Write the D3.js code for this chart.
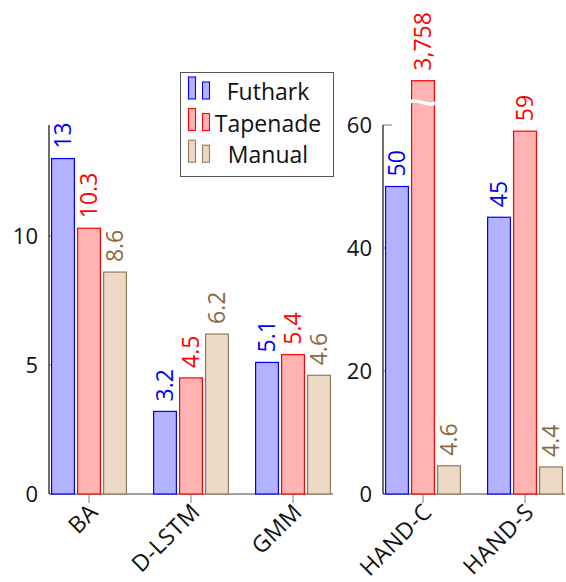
<!DOCTYPE html>
<html>
<head>
<meta charset="utf-8">
<script src="https://cdn.jsdelivr.net/npm/d3@7/dist/d3.min.js"></script>
<style>
  html, body { margin: 0; padding: 0; background: #fff; }
  svg { display: block; font-family: "Open Sans", "DejaVu Sans", sans-serif; }
</style>
</head>
<body>
<svg id="chart" width="566" height="582"></svg>
<script>
// Benchmarks, split into two panels with their own y scale
const leftCategories = ["BA", "D-LSTM", "GMM"];
const rightCategories = ["HAND-C", "HAND-S"];
const series = ["Futhark", "Tapenade", "Manual"];

// Values per series, in category order (left panel then right panel)
const futharkValues = [13, 3.2, 5.1, 50, 45];
const tapenadeValues = [10.3, 4.5, 5.4, 3758, 59];
const manualValues = [8.6, 6.2, 4.6, 4.6, 4.4];

const leftTicks = [0, 5, 10];
const rightTicks = [0, 20, 40, 60];

const seriesValues = { Futhark: futharkValues, Tapenade: tapenadeValues, Manual: manualValues };
const fills = { Futhark: "#b3b3ff", Tapenade: "#ffb3b3", Manual: "#ebd9c6" };
const strokes = { Futhark: "#0000ff", Tapenade: "#ff0000", Manual: "#9a7a58" };
const labelColors = { Futhark: "#0000ff", Tapenade: "#ff0000", Manual: "#8c6a40" };

const svg = d3.select("#chart");
const baseY = 494, topY = 125;

const fmt = v => (v >= 1000 ? d3.format(",")(v) : String(v));

function panel(cats, offset, x0, x1, yMax, ticks, barCap) {
  const x = d3.scalePoint().domain(cats).range([x0, x1]).padding(0.392);
  const y = d3.scaleLinear().domain([0, yMax]).range([baseY, topY]);
  const sub = d3.scaleBand().domain(series).range([-38, 38]).paddingInner(1 / 13);
  const g = svg.append("g");

  // y ticks (drawn inward, under the bars)
  g.selectAll(".ytick").data(ticks).join("line")
    .attr("x1", x0).attr("x2", x0 + 9)
    .attr("y1", d => y(d)).attr("y2", d => y(d))
    .attr("stroke", "#999").attr("stroke-width", 1.3);

  g.selectAll(".ylab").data(ticks).join("text")
    .attr("x", x0 - 11).attr("y", d => y(d)).attr("dy", "0.36em")
    .attr("text-anchor", "end").attr("font-size", 22).attr("fill", "#111")
    .text(d => d);

  // x axis line and ticks
  g.append("line").attr("x1", x0).attr("x2", x1)
    .attr("y1", baseY).attr("y2", baseY)
    .attr("stroke", "#808080").attr("stroke-width", 1.4);
  g.selectAll(".xtick").data(cats).join("line")
    .attr("x1", d => x(d)).attr("x2", d => x(d))
    .attr("y1", baseY + 1).attr("y2", baseY + 9)
    .attr("stroke", "#808080").attr("stroke-width", 1);
  g.selectAll(".xlab").data(cats).join("text")
    .attr("transform", d => `translate(${x(d) - 1},${baseY + 8}) rotate(-45)`)
    .attr("text-anchor", "end").attr("dy", "0.7em")
    .attr("font-size", 23).attr("letter-spacing", 0.5).attr("fill", "#111")
    .text(d => d);

  // bars
  const rows = [];
  cats.forEach((c, i) => series.forEach(s => {
    const v = seriesValues[s][offset + i];
    rows.push({ c, s, v, shown: barCap != null ? Math.min(v, barCap) : v });
  }));
  g.selectAll(".bar").data(rows).join("rect")
    .attr("x", d => x(d.c) + sub(d.s) + 0.6)
    .attr("width", sub.bandwidth() - 1.2)
    .attr("y", d => y(d.shown))
    .attr("height", d => baseY - y(d.shown))
    .attr("fill", d => fills[d.s]).attr("stroke", d => strokes[d.s]).attr("stroke-width", 1.2);

  // axis break on bars that run past the top
  if (barCap != null) {
    rows.filter(d => d.v > barCap).forEach(d => {
      const bx = x(d.c) + sub(d.s), bw = sub.bandwidth();
      const wy = y(barCap) + 22;
      g.append("path")
        .attr("d", `M${bx - 2},${wy - 1} C${bx + bw * 0.35},${wy - 5} ${bx + bw * 0.6},${wy + 5} ${bx + bw + 2},${wy}`)
        .attr("fill", "none").attr("stroke", "#fff").attr("stroke-width", 3.5);
    });
  }

  // value labels
  g.selectAll(".val").data(rows).join("text")
    .attr("transform", d => `translate(${x(d.c) + sub(d.s) + sub.bandwidth() / 2},${y(d.shown) - 10}) rotate(-90)`)
    .attr("dy", "0.36em").attr("text-anchor", "start")
    .attr("font-size", 23).attr("fill", d => labelColors[d.s])
    .text(d => fmt(d.v));

  // y axis line
  g.append("line").attr("x1", x0).attr("x2", x0)
    .attr("y1", topY).attr("y2", baseY)
    .attr("stroke", "#222").attr("stroke-width", 1.3);
}

panel(leftCategories, 0, 49, 333, 14.3, leftTicks, null);
panel(rightCategories, 3, 383, 565, 60, rightTicks, 67.2);

// legend
const legend = svg.append("g");
legend.append("rect").attr("x", 180.5).attr("y", 72.5).attr("width", 153).attr("height", 104)
  .attr("fill", "#fff").attr("stroke", "#555").attr("stroke-width", 1);
series.forEach((s, i) => {
  const cy = 92 + i * 31.6;
  legend.append("rect").attr("x", 188.5).attr("y", cy - 15).attr("width", 7).attr("height", 22)
    .attr("fill", fills[s]).attr("stroke", strokes[s]).attr("stroke-width", 1.1);
  legend.append("rect").attr("x", 202.5).attr("y", cy - 10).attr("width", 7).attr("height", 17)
    .attr("fill", fills[s]).attr("stroke", strokes[s]).attr("stroke-width", 1.1);
  legend.append("text").attr("x", 268).attr("y", cy).attr("dy", "0.36em")
    .attr("text-anchor", "middle").attr("font-size", 23).attr("fill", "#111")
    .text(s);
});
</script>
</body>
</html>
